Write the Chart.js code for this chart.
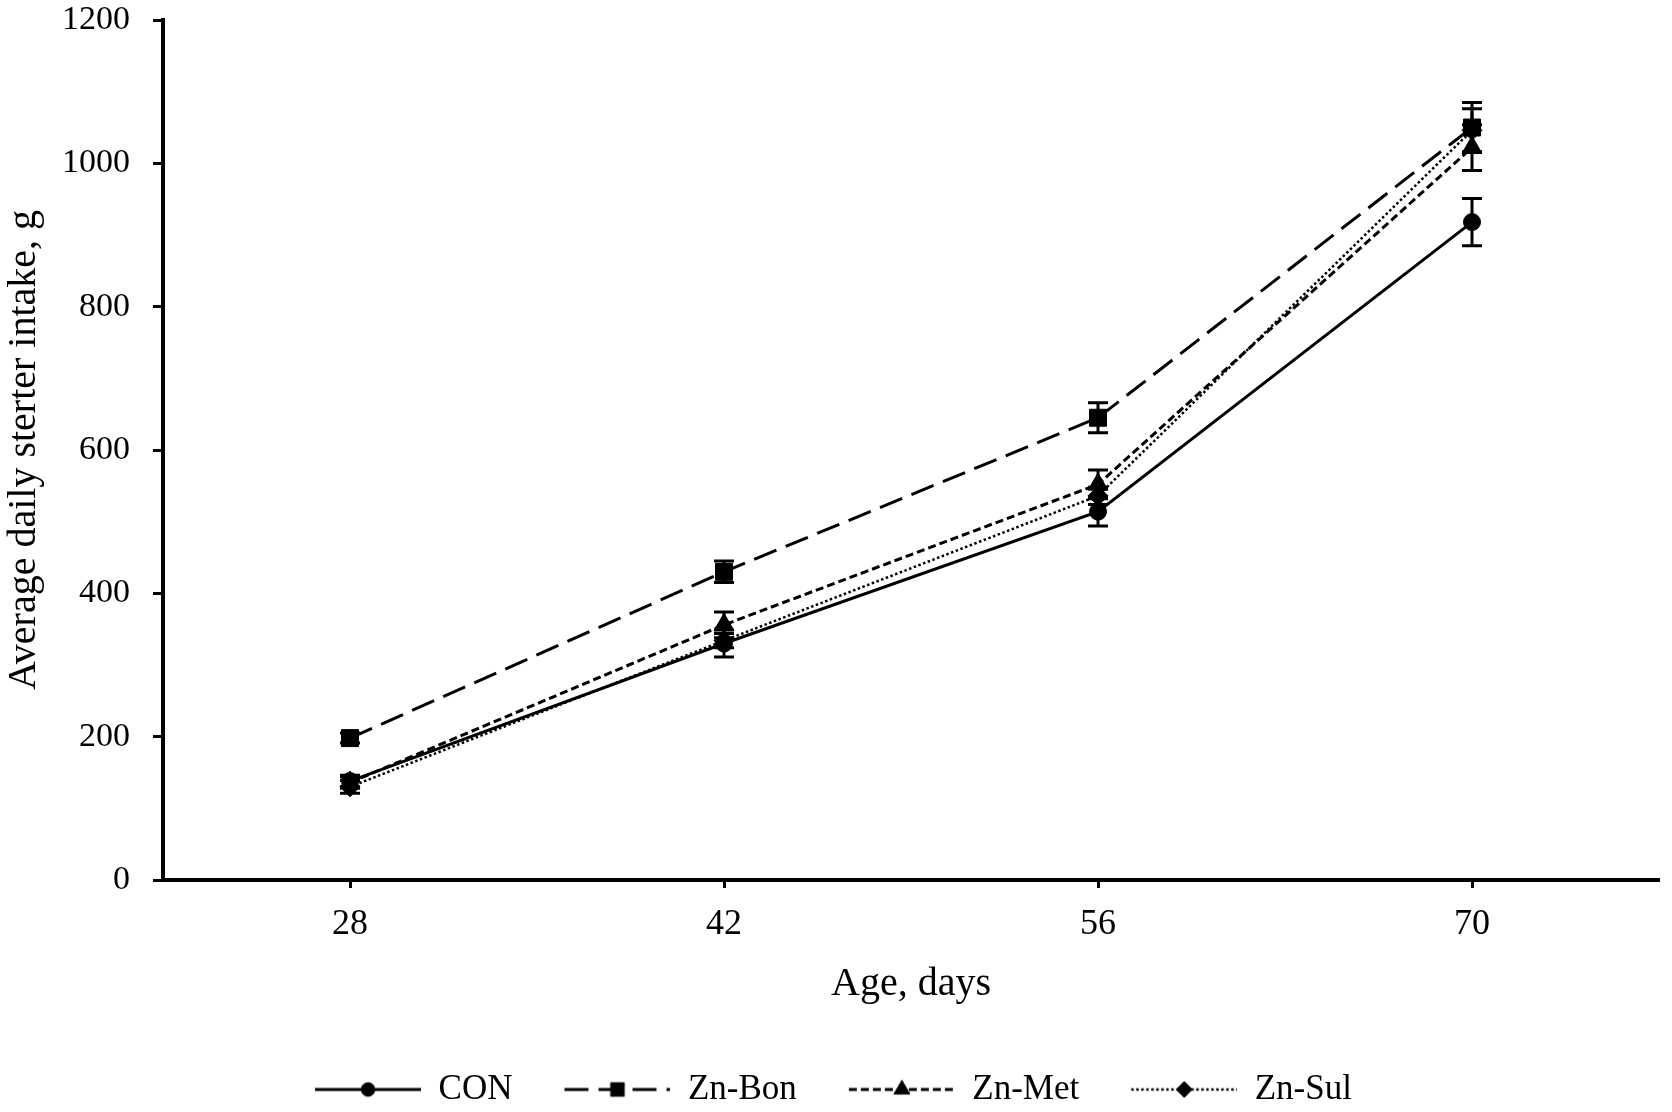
<!DOCTYPE html>
<html>
<head>
<meta charset="utf-8">
<title>Average daily sterter intake</title>
<script src="https://cdn.jsdelivr.net/npm/chart.js@4.4.0/dist/chart.umd.min.js"></script>
<style>
  html, body { margin: 0; padding: 0; background: #fff; }
  #wrap { width: 1672px; height: 1112px; position: relative; }
</style>
</head>
<body>
<div id="wrap"><canvas id="intake-chart"></canvas></div>
<script>
// Age (days) on the x axis
const days = ['28', '42', '56', '70'];

// Mean intake per group, g
const conValues = [138, 330, 514, 918];
const znBonValues = [198, 430, 645, 1050];
const znMetValues = [136, 356, 552, 1022];
const znSulValues = [130, 334, 536, 1046];

// Standard errors per group, g
const conErrors = [8, 19, 20, 33];
const znBonErrors = [7, 15, 21, 35];
const znMetErrors = [8, 18, 20, 32];
const znSulErrors = [9, 10, 12, 30];

const seriesNames = ['CON', 'Zn-Bon', 'Zn-Met', 'Zn-Sul'];

const FONT = "'Liberation Serif', 'Times New Roman', serif";
Chart.defaults.color = '#000';
Chart.defaults.font.family = FONT;

/**
 * Builds a small canvas with a line sample and the marker in the middle,
 * used as the point style of a legend item.
 */
function makeSwatch(dash, pointStyle, radius, lineWidth) {
  const lead = 42, len = 106, h = 26;
  const c = document.createElement('canvas');
  c.width = lead + len;
  c.height = h;
  const ctx = c.getContext('2d');
  ctx.strokeStyle = '#000';
  ctx.fillStyle = '#000';
  ctx.lineWidth = lineWidth;
  ctx.setLineDash(dash);
  ctx.beginPath();
  ctx.moveTo(lead, h / 2);
  ctx.lineTo(lead + len, h / 2);
  ctx.stroke();
  ctx.setLineDash([]);
  ctx.lineWidth = 1;
  Chart.helpers.drawPoint(ctx, { pointStyle: pointStyle, radius: radius * 0.8, rotation: 0, borderWidth: 1 }, lead + len / 2, h / 2);
  return c;
}

const dashes = [[], [24, 10], [8, 4], [2.5, 2.5]];
const markers = ['circle', 'rect', 'triangle', 'rectRot'];
const markerSizes = [8.5, 12, 11.5, 10];
const lineWidths = [3, 3, 3, 2.5];
const allValues = [conValues, znBonValues, znMetValues, znSulValues];
const allErrors = [conErrors, znBonErrors, znMetErrors, znSulErrors];

const datasets = seriesNames.map((name, i) => ({
  label: name,
  data: allValues[i],
  errors: allErrors[i],
  borderColor: '#000',
  backgroundColor: '#000',
  borderWidth: lineWidths[i],
  borderDash: dashes[i],
  pointStyle: markers[i],
  pointRadius: markerSizes[i],
  pointBorderWidth: 1,
  tension: 0,
  fill: false
}));

// Draws the vertical error bars with caps
const errorBars = {
  id: 'errorBars',
  afterDatasetsDraw(chart) {
    const { ctx, scales: { x, y } } = chart;
    ctx.save();
    ctx.strokeStyle = '#000';
    ctx.lineWidth = 3;
    chart.data.datasets.forEach(ds => {
      ds.data.forEach((v, j) => {
        const px = x.getPixelForValue(j);
        const top = y.getPixelForValue(v + ds.errors[j]);
        const bot = y.getPixelForValue(v - ds.errors[j]);
        ctx.beginPath();
        ctx.moveTo(px, top);
        ctx.lineTo(px, bot);
        ctx.moveTo(px - 10, top);
        ctx.lineTo(px + 10, top);
        ctx.moveTo(px - 10, bot);
        ctx.lineTo(px + 10, bot);
        ctx.stroke();
      });
    });
    ctx.restore();
  }
};

// Nudges the legend row a little, the swatches carry a blank lead
const legendShift = {
  id: 'legendShift',
  afterLayout(chart) {
    chart.legend.left -= 18;
    chart.legend.right -= 18;
    chart.legend.top += 5;
    chart.legend.bottom += 5;
  }
};

new Chart(document.getElementById('intake-chart'), {
  type: 'line',
  data: {
    labels: days,
    datasets: datasets
  },
  plugins: [errorBars, legendShift],
  options: {
    responsive: true,
    maintainAspectRatio: false,
    animation: false,
    devicePixelRatio: 1,
    layout: { padding: { left: 0, right: 11, top: 0, bottom: 0 } },
    plugins: {
      tooltip: { enabled: false },
      legend: {
        display: true,
        position: 'bottom',
        labels: {
          usePointStyle: true,
          pointStyleWidth: 148,
          padding: 10,
          font: { size: 35, family: FONT },
          color: '#000',
          generateLabels: chart => chart.data.datasets.map((ds, i) => ({
            text: ds.label,
            pointStyle: makeSwatch(dashes[i], markers[i], markerSizes[i], lineWidths[i]),
            fillStyle: '#000',
            strokeStyle: '#000',
            lineWidth: 0,
            hidden: false,
            datasetIndex: i
          }))
        }
      }
    },
    scales: {
      x: {
        offset: true,
        afterFit: scale => { scale.height = 177; },
        grid: {
          offset: false,
          drawOnChartArea: false,
          drawTicks: true,
          tickLength: 8,
          tickWidth: 3,
          color: '#000'
        },
        border: { display: true, color: '#000', width: 4 },
        ticks: { padding: 15, font: { size: 36, family: FONT }, color: '#000' },
        title: {
          display: true,
          text: 'Age, days',
          font: { size: 40, family: FONT },
          color: '#000',
          padding: { top: 11, bottom: 49 }
        }
      },
      y: {
        min: 0,
        max: 1200,
        afterFit: scale => {
          scale.width = 163;
          scale.paddingTop = 20;
          scale.paddingBottom = 0;
        },
        grid: {
          drawOnChartArea: false,
          drawTicks: true,
          tickLength: 10,
          tickWidth: 3,
          color: '#000'
        },
        border: { display: true, color: '#000', width: 4 },
        ticks: {
          stepSize: 200,
          padding: 23,
          font: { size: 34, family: FONT },
          color: '#000',
          callback: value => String(value)
        },
        title: {
          display: true,
          text: 'Average daily sterter intake, g',
          font: { size: 40, family: FONT },
          color: '#000',
          padding: { top: 0, bottom: 14 }
        }
      }
    }
  }
});
</script>
</body>
</html>
